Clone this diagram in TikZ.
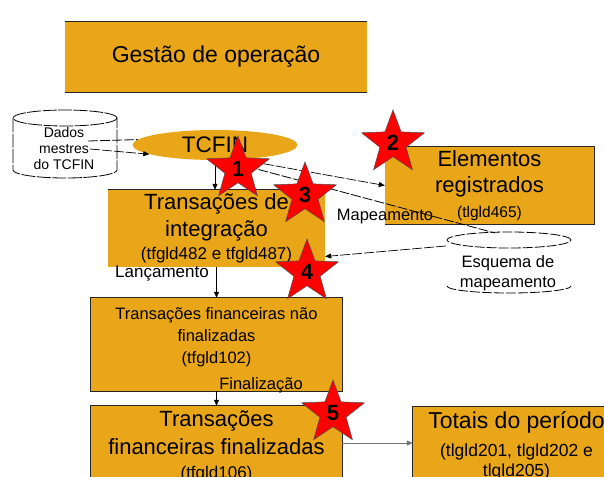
\documentclass[tikz,border=0pt]{standalone}
\usepackage{fontspec}
\setmainfont{Liberation Sans}
\usetikzlibrary{shapes.geometric,arrows.meta}
\definecolor{gold}{RGB}{233,166,24}
\begin{document}
\begin{tikzpicture}[x=1pt,y=-1pt,
  box/.style={fill=gold, inner sep=0pt, align=center},
  edge/.style={draw=black!85, line width=1.2pt},
  dsh/.style={line width=0.8pt, dash pattern=on 10pt off 2pt},
  arr/.style={-{Triangle[length=6pt,width=5pt]}, line width=0.7pt},
  starn/.style={star, star points=5, star point ratio=2.4, minimum size=66pt, inner sep=0pt, fill=red, draw=black!70, line width=0.5pt, font=\fontsize{22}{22}\selectfont\bfseries},
  lbl/.style={font=\fontsize{16.5}{20}\selectfont}
]
\clip (0,0) rectangle (604,476);
\fill[white] (0,0) rectangle (604,476);

% boxes
\node[box, font=\fontsize{23}{27}\selectfont, minimum width=302pt, minimum height=70pt] (gest) at (216,57) {Gestão de operação};
\draw[edge] (gest.north west) -- (gest.north east);
\draw[edge] (gest.south west) -- (gest.south east);

\node[box, font=\fontsize{22}{27}\selectfont, minimum width=217pt, minimum height=77pt] (trint) at (216.5,228.5)
  {Transações de\\integração\\[-4pt]{\fontsize{17}{20}\selectfont (tfgld482 e tfgld487)}};
\draw[edge] (trint.north west) -- (trint.north east);

\node[box, font=\fontsize{22}{26}\selectfont, minimum width=209pt, minimum height=77pt] (elem) at (489.5,185.5)
  {Elementos\\registrados\\[-1pt]{\fontsize{15.5}{20}\selectfont (tlgld465)}};
\draw[edge] (elem.north west) -- (elem.north east) -- (elem.south east) -- (elem.south west);

\node[box, minimum width=251pt, minimum height=93pt,
  label={[align=center, font=\fontsize{16.5}{22}\selectfont, yshift=7pt]center:Transações financeiras não\\finalizadas\\(tfgld102)}] (tfnf) at (216.5,344.5) {};
\draw[edge] (tfnf.north west) rectangle (tfnf.south east);

\node[box, font=\fontsize{22}{28}\selectfont, minimum width=251pt, minimum height=80pt] (tff) at (216.5,446)
  {Transações\\financeiras finalizadas\\[-4pt]{\fontsize{17}{20}\selectfont (tfgld106)}};
\draw[edge] (tff.south west) -- (tff.north west) -- (tff.north east) -- (tff.south east);

\node[box, font=\fontsize{23}{28}\selectfont, minimum width=207pt, minimum height=78pt] (tot) at (516.5,446)
  {Totais do período\\{\fontsize{17.5}{20}\selectfont (tlgld201, tlgld202 e}\\[-8pt]{\fontsize{17.5}{20}\selectfont tlgld205)}};
\draw[edge] (tot.south west) -- (tot.north west) -- (tot.north east) -- (tot.south east);

% TCFIN
\node[ellipse, fill=gold, minimum width=165pt, minimum height=30pt, inner sep=0pt, font=\fontsize{22.5}{27}\selectfont] (tcfin) at (215,145) {TCFIN};

% Dados mestres cylinder
\draw[line width=0.8pt, dash pattern=on 14pt off 1.5pt] (65,118) ellipse [x radius=52pt, y radius=8pt];
\draw[line width=0.8pt, dash pattern=on 14pt off 1.5pt] (13,118) -- (13,170) arc[start angle=180, end angle=360, x radius=52pt, y radius=8pt] -- (117,118);
\node[align=center, font=\fontsize{14}{16}\selectfont, inner sep=0pt] (dados) at (64,148) {Dados\\mestres\\do TCFIN};

% Esquema de mapeamento
\draw[dsh] (509,240) ellipse [x radius=62pt, y radius=8pt];
\draw[dsh] (447,286) arc[start angle=180, end angle=360, x radius=62pt, y radius=7pt];
\node[lbl, align=center, minimum width=124pt, inner sep=0pt] (esq) at (508,273) {Esquema de\\mapeamento};

% connectors
\coordinate (dm1) at (88,141);
\coordinate (dm2) at (90,149);
\coordinate (esqtop) at (495,233);
\draw[dsh] (dm1) -- (tcfin.176);
\draw[dsh, arr] (dm2) -- (tcfin.188);
\draw[arr] (tcfin.south) -- (tcfin.south |- trint.north);
\draw[dsh, arr] (tcfin.330) -- (elem.west);
\draw[dsh] (tcfin.300) -- (esqtop);
\draw[dsh, arr] ([yshift=27pt]esq.west) -- ([yshift=-28pt]trint.east);
\draw[arr] (trint.south) -- (tfnf.north);
\draw[arr] (tfnf.south) -- (tff.north);
\draw[arr, draw=black!55] ([yshift=3pt]tff.east) -- ([yshift=3pt]tff.east -| tot.west);

% labels
\node[lbl] (mapl) at (385,217) {Mapeamento};
\node[lbl, font=\fontsize{17}{20}\selectfont] (lanc) at (162,273) {Lançamento};
\node[lbl] (fin) at (261,385) {Finalização};

% stars
\node[starn] (s1) at (238,169) {1};
\node[starn] (s2) at (393,143) {2};
\node[starn] (s3) at (305,195) {3};
\node[starn] (s4) at (307,272) {4};
\node[starn] (s5) at (333,413) {5};
\end{tikzpicture}
\end{document}
